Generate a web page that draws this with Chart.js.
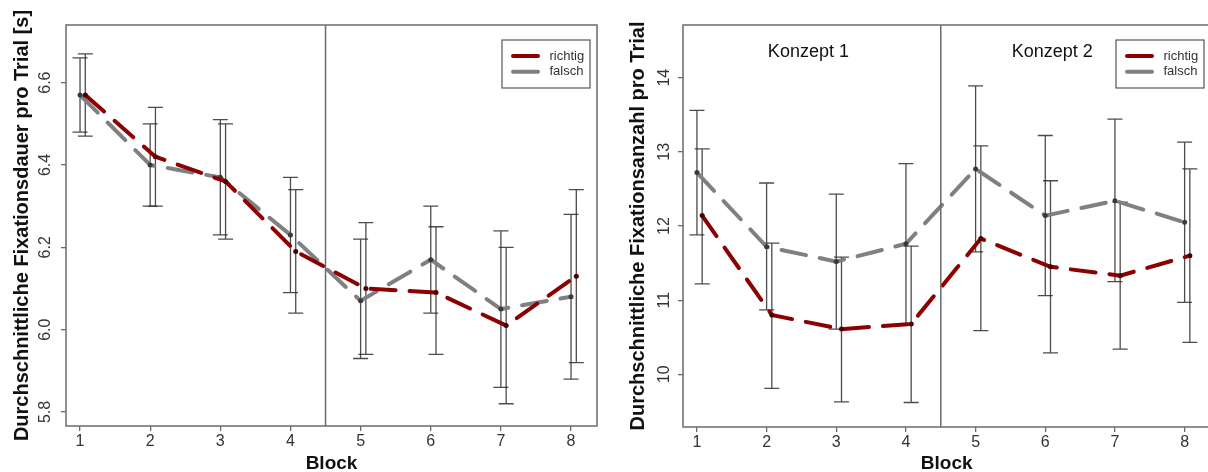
<!DOCTYPE html>
<html>
<head>
<meta charset="utf-8">
<script src="https://cdn.jsdelivr.net/npm/chart.js@4"></script>
<style>
html, body { margin: 0; padding: 0; background: #fff; }
#wrap { position: relative; width: 1208px; height: 472px; overflow: hidden; }
#left { position: absolute; left: 0; top: 0; }
#right { position: absolute; left: 604px; top: 0; }
</style>
</head>
<body>
<div id="wrap">
  <canvas id="left" width="604" height="472"></canvas>
  <canvas id="right" width="610" height="472"></canvas>
</div>
<script>
// Blocks 1..8, two conditions (richtig / falsch)
const blocks = [1, 2, 3, 4, 5, 6, 7, 8];
const seriesNames = ['richtig', 'falsch'];

// left panel: mean fixation duration per trial [s]
const dauerRichtig   = [6.57, 6.42, 6.36, 6.19, 6.10, 6.09, 6.01, 6.13];
const dauerRichtigLo = [6.47, 6.30, 6.22, 6.04, 5.94, 5.94, 5.82, 5.92];
const dauerRichtigHi = [6.67, 6.54, 6.50, 6.34, 6.26, 6.25, 6.20, 6.34];
const dauerFalsch    = [6.57, 6.40, 6.37, 6.23, 6.07, 6.17, 6.05, 6.08];
const dauerFalschLo  = [6.48, 6.30, 6.23, 6.09, 5.93, 6.04, 5.86, 5.88];
const dauerFalschHi  = [6.66, 6.50, 6.51, 6.37, 6.22, 6.30, 6.24, 6.28];
const dauerTicks = [5.8, 6.0, 6.2, 6.4, 6.6];

// right panel: mean number of fixations per trial
const anzahlRichtig   = [12.14, 10.80, 10.61, 10.68, 11.83, 11.45, 11.33, 11.60];
const anzahlRichtigLo = [11.22, 9.81, 9.63, 9.62, 10.59, 10.29, 10.34, 10.43];
const anzahlRichtigHi = [13.04, 11.77, 11.58, 11.73, 13.08, 12.61, 12.32, 12.77];
const anzahlFalsch    = [12.72, 11.72, 11.52, 11.76, 12.77, 12.14, 12.34, 12.05];
const anzahlFalschLo  = [11.88, 10.87, 10.61, 10.68, 11.65, 11.06, 11.25, 10.97];
const anzahlFalschHi  = [13.56, 12.58, 12.43, 12.84, 13.89, 13.22, 13.44, 13.13];
const anzahlTicks = [10, 11, 12, 13, 14];

const konzeptLabels = ['Konzept 1', 'Konzept 2'];
const konzeptX = [2.6, 6.1];

const FONT = '"Liberation Sans", Arial, Helvetica, sans-serif';
const RED = '#8b0000';
const GREY = '#808080';
const AXIS = '#6b6b6b';
const DODGE = 0.075; // red series is drawn a bit right of the grey one

Chart.defaults.font.family = FONT;

// vertical error bars with caps, from errLo/errHi on each dataset
const errorBars = {
    id: 'errorBars',
    beforeDatasetsDraw(chart) {
        const {ctx, scales: {x, y}} = chart;
        ctx.save();
        ctx.strokeStyle = 'rgba(45,45,45,0.85)';
        ctx.lineWidth = 1.3;
        chart.data.datasets.forEach(function (ds) {
            ds.data.forEach(function (p, i) {
                const px = x.getPixelForValue(p.x);
                const top = y.getPixelForValue(ds.errHi[i]);
                const bot = y.getPixelForValue(ds.errLo[i]);
                ctx.beginPath();
                ctx.moveTo(px, top); ctx.lineTo(px, bot);
                ctx.moveTo(px - 7.5, top); ctx.lineTo(px + 7.5, top);
                ctx.moveTo(px - 7.5, bot); ctx.lineTo(px + 7.5, bot);
                ctx.stroke();
            });
        });
        ctx.restore();
    }
};

// box around the plot + separator between block 4 and 5
const frame = {
    id: 'frame',
    afterDatasetsDraw(chart, args, opts) {
        const {ctx, chartArea: a, scales: {x}} = chart;
        ctx.save();
        ctx.strokeStyle = AXIS;
        ctx.lineWidth = 1.5;
        ctx.strokeRect(a.left, a.top, a.right - a.left, a.bottom - a.top);
        const dx = x.getPixelForValue(opts.divider);
        ctx.beginPath();
        ctx.moveTo(dx, a.top);
        ctx.lineTo(dx, a.bottom);
        ctx.stroke();
        ctx.restore();
    }
};

// R style legend box in the top right corner
const boxLegend = {
    id: 'boxLegend',
    afterDraw(chart, args, opts) {
        const {ctx, chartArea: a} = chart;
        const w = 88, h = 48;
        const left = a.right - opts.inset - w;
        const top = a.top + 15;
        ctx.save();
        ctx.fillStyle = '#fff';
        ctx.fillRect(left, top, w, h);
        ctx.strokeStyle = '#555';
        ctx.lineWidth = 1.2;
        ctx.strokeRect(left, top, w, h);
        ctx.font = '13px ' + FONT;
        ctx.textBaseline = 'middle';
        chart.data.datasets.forEach(function (ds, i) {
            const yy = top + 16 + i * 15.7;
            ctx.strokeStyle = ds.borderColor;
            ctx.lineWidth = 4;
            ctx.lineCap = 'round';
            ctx.beginPath();
            ctx.moveTo(left + 11, yy);
            ctx.lineTo(left + 36, yy);
            ctx.stroke();
            ctx.fillStyle = '#333';
            ctx.fillText(ds.label, left + 47.5, yy);
        });
        ctx.restore();
    }
};

const konzeptText = {
    id: 'konzeptText',
    afterDraw(chart, args, opts) {
        if (!opts.labels) return;
        const {ctx, scales: {x, y}} = chart;
        ctx.save();
        ctx.font = '18px ' + FONT;
        ctx.fillStyle = '#111';
        ctx.textAlign = 'center';
        ctx.textBaseline = 'middle';
        opts.labels.forEach(function (t, i) {
            ctx.fillText(t, x.getPixelForValue(opts.xs[i]), y.getPixelForValue(opts.y));
        });
        ctx.restore();
    }
};

function series(label, values, lo, hi, color, pointColor, dodge) {
    return {
        label: label,
        data: blocks.map((b, i) => ({x: b + dodge, y: values[i]})),
        errLo: lo,
        errHi: hi,
        borderColor: color,
        borderWidth: 4,
        borderDash: [25, 14],
        borderCapStyle: 'round',
        tension: 0,
        pointRadius: 2.5,
        pointHoverRadius: 2.5,
        pointBorderWidth: 0,
        pointBackgroundColor: pointColor
    };
}

function makeChart(id, cfg) {
    const grid = {
        display: true, drawOnChartArea: false, drawTicks: true,
        tickLength: 5, color: AXIS, lineWidth: 1.3
    };
    return new Chart(document.getElementById(id).getContext('2d'), {
        type: 'line',
        data: {datasets: cfg.datasets},
        plugins: [errorBars, frame, boxLegend, konzeptText],
        options: {
            responsive: false,
            animation: false,
            devicePixelRatio: 1,
            layout: {padding: {top: 25, right: cfg.padRight, bottom: 0, left: 0}},
            plugins: {
                legend: {display: false},
                tooltip: {enabled: false},
                frame: {divider: 4.5},
                boxLegend: {inset: cfg.legendInset},
                konzeptText: cfg.konzept || {}
            },
            scales: {
                x: {
                    type: 'linear',
                    min: 0.8,
                    max: 8.37,
                    afterBuildTicks: function (s) { s.ticks = blocks.map(v => ({value: v})); },
                    afterFit: function (s) { s.height = cfg.xHeight; },
                    grid: grid,
                    border: {display: false},
                    ticks: {font: {size: 16}, color: '#333', padding: 1, maxRotation: 0, autoSkip: false},
                    title: {
                        display: true, text: 'Block', color: '#111',
                        font: {size: 19, weight: 'bold', lineHeight: 1},
                        padding: {top: 0, bottom: -1.5}
                    }
                },
                y: {
                    type: 'linear',
                    min: cfg.yMin,
                    max: cfg.yMax,
                    afterBuildTicks: function (s) { s.ticks = cfg.yTicks.map(v => ({value: v})); },
                    afterFit: function (s) { s.width = cfg.yWidth; },
                    grid: grid,
                    border: {display: false},
                    ticks: {
                        font: {size: 16}, color: '#333',
                        minRotation: 90, maxRotation: 90, crossAlign: 'center',
                        padding: cfg.yTickPad,
                        callback: cfg.yFormat
                    },
                    title: {
                        display: true, text: cfg.yTitle, color: '#111',
                        font: {size: 20, weight: 'bold', lineHeight: 1},
                        padding: {top: cfg.yTitlePad, bottom: 0}
                    }
                }
            }
        }
    });
}

makeChart('left', {
    datasets: [
        series(seriesNames[0], dauerRichtig, dauerRichtigLo, dauerRichtigHi, RED, '#4a0000', DODGE),
        series(seriesNames[1], dauerFalsch, dauerFalschLo, dauerFalschHi, GREY, '#3a3a3a', 0)
    ],
    yMin: 5.766, yMax: 6.74, yTicks: dauerTicks,
    yFormat: v => v.toFixed(1),
    yTitle: 'Durchschnittliche Fixationsdauer pro Trial [s]',
    yWidth: 66, yTitlePad: 12, yTickPad: 4,
    xHeight: 46, padRight: 7, legendInset: 7
});

makeChart('right', {
    datasets: [
        series(seriesNames[0], anzahlRichtig, anzahlRichtigLo, anzahlRichtigHi, RED, '#4a0000', DODGE),
        series(seriesNames[1], anzahlFalsch, anzahlFalschLo, anzahlFalschHi, GREY, '#3a3a3a', 0)
    ],
    yMin: 9.29, yMax: 14.71, yTicks: anzahlTicks,
    yFormat: v => String(v),
    yTitle: 'Durchschnittliche Fixationsanzahl pro Trial',
    yWidth: 79, yTitlePad: 24, yTickPad: 5,
    xHeight: 45, padRight: 3.6, legendInset: 6.4,
    konzept: {labels: konzeptLabels, xs: konzeptX, y: 14.35}
});
</script>
</body>
</html>
